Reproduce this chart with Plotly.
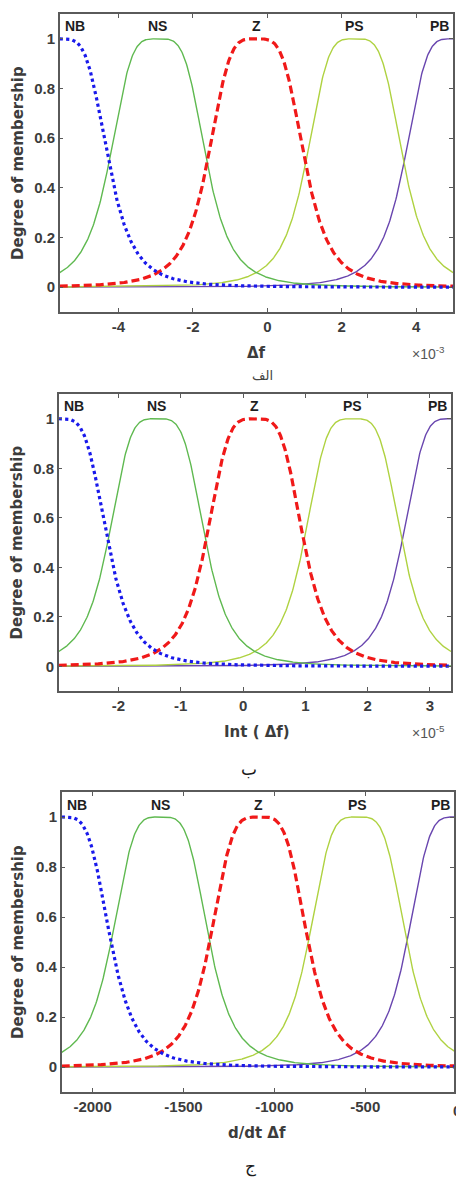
import numpy as np
import plotly.graph_objects as go

W, H = 456, 1179

# Fuzzy sets shared by the three inputs
mf_names = ["NB", "NS", "Z", "PS", "PB"]

# Generalized bell membership functions: centre c, half-width a, slope b
df_range = [-5.58, 4.99]              # x 1e-3
df_centers = [-5.58, -2.94, -0.30, 2.35, 4.99]
df_width = 1.32

int_range = [-2.96, 3.34]             # x 1e-5
int_centers = [-2.96, -1.385, 0.19, 1.765, 3.34]
int_width = 0.79

ddt_range = [-2170, 0]
ddt_centers = [-2170, -1627.5, -1085, -542.5, 0]
ddt_width = 271

bell_slope = 2

df_ticks = [-4, -2, 0, 2, 4]
int_ticks = [-2, -1, 0, 1, 2, 3]
ddt_ticks = [-2000, -1500, -1000, -500]
y_ticks = [0, 0.2, 0.4, 0.6, 0.8, 1]
y_ticktext = ["0", "0.2", "0.4", "0.6", "0.8", "1"]

# line style of each set
mf_style = {
    "NB": dict(color="rgb(25,25,235)", width=3.2, dash="dot"),
    "NS": dict(color="rgb(95,185,80)", width=1.4, dash="solid"),
    "Z": dict(color="rgb(240,25,25)", width=3.2, dash="8px,4px"),
    "PS": dict(color="rgb(175,210,65)", width=1.4, dash="solid"),
    "PB": dict(color="rgb(105,70,175)", width=1.4, dash="solid"),
}
draw_order = ["PB", "PS", "NS", "Z", "NB"]


def gbellmf(x, a, b, c):
    return 1.0 / (1.0 + np.abs((x - c) / a) ** (2 * b))


def px(x):
    return x / W


def py(y):
    return 1 - y / H


panels = [
    dict(rng=df_range, centers=df_centers, a=df_width, view=df_range,
         ticks=df_ticks, xdom=[px(60), px(455)], ydom=[py(312), py(14)],
         top=14, bottom=312, title="Δf", exp="×10<sup>-3</sup>"),
    dict(rng=int_range, centers=int_centers, a=int_width, view=int_range,
         ticks=int_ticks, xdom=[px(59), px(453)], ydom=[py(691), py(394)],
         top=394, bottom=691, title="Int ( Δf)", exp="×10<sup>-5</sup>"),
    dict(rng=ddt_range, centers=ddt_centers, a=ddt_width, view=[-2170, -12],
         ticks=ddt_ticks, xdom=[px(62), 1.0], ydom=[py(1092), py(792)],
         top=792, bottom=1092, title="d/dt Δf", exp=None),
]

fig = go.Figure()
axis_color = "#5a5a5a"
text_color = "#3c3c3c"
tick_font = dict(family="Liberation Sans, Arial", size=15, color=text_color, weight="bold")
title_font = dict(family="DejaVu Sans", size=15, color=text_color, weight="bold")
caption_font = dict(family="DejaVu Sans", size=17, color="#1a1a1a")
annotations = []


def page_text(x, y, text, font, **kw):
    d = dict(x=px(x), y=py(y), xref="paper", yref="paper", text=text,
             xanchor="center", yanchor="middle", showarrow=False, font=font)
    d.update(kw)
    annotations.append(d)


for i, p in enumerate(panels, start=1):
    xa = "x" if i == 1 else f"x{i}"
    ya = "y" if i == 1 else f"y{i}"
    xs = np.linspace(p["rng"][0], p["rng"][1], 600)
    for name in draw_order:
        k = mf_names.index(name)
        fig.add_trace(go.Scatter(
            x=xs, y=gbellmf(xs, p["a"], bell_slope, p["centers"][k]),
            mode="lines", line=mf_style[name], name=name,
            xaxis=xa, yaxis=ya, showlegend=False, hoverinfo="skip"))

    common = dict(showline=True, linecolor=axis_color, linewidth=1.5, mirror="ticks",
                  ticks="inside", ticklen=4, tickwidth=1, tickcolor=axis_color,
                  showgrid=False, zeroline=False, tickfont=tick_font)
    fig.layout[f"xaxis{'' if i == 1 else i}"] = dict(
        domain=p["xdom"], anchor=ya, range=p["view"],
        tickvals=p["ticks"], ticktext=[str(v) for v in p["ticks"]], **common)
    fig.layout[f"yaxis{'' if i == 1 else i}"] = dict(
        domain=p["ydom"], anchor=xa, range=[-0.1, 1.1],
        tickvals=y_ticks, ticktext=y_ticktext, **common)

    # set names above each bell
    lab_font = dict(family="Liberation Sans, Arial", size=14, color="#1e1e1e", weight="bold")
    for k, name in enumerate(mf_names):
        if k == 0:
            ann = dict(x=p["view"][0], xanchor="left", xshift=3)
        elif k == len(mf_names) - 1:
            ann = dict(x=p["view"][1], xanchor="right", xshift=-2)
        else:
            ann = dict(x=p["centers"][k], xanchor="center")
        ann.update(y=1.05, yanchor="middle", xref=xa, yref=ya, text=name,
                   showarrow=False, font=lab_font)
        annotations.append(ann)

    # axis titles
    mid = (p["top"] + p["bottom"]) / 2
    page_text(18, mid, "Degree of membership", title_font, textangle=-90)
    page_text(258, p["bottom"] + 41, p["title"], title_font)
    if p["exp"]:
        page_text(430, p["bottom"] + 41, p["exp"],
                  dict(family="Liberation Sans, Arial", size=14, color="#555555"))

# panel captions
page_text(264, 375, "الف", dict(family="DejaVu Sans", size=13, color="#444444"))
page_text(250, 769, "ب", caption_font)
page_text(252, 1166, "ج", caption_font)
# last tick label of the derivative axis sits on the page edge
page_text(459, 1110, "0", tick_font)

fig.update_layout(width=W, height=H, margin=dict(l=0, r=0, t=0, b=0),
                  paper_bgcolor="white", plot_bgcolor="white",
                  annotations=annotations, showlegend=False)

fig.write_html("out.html")
